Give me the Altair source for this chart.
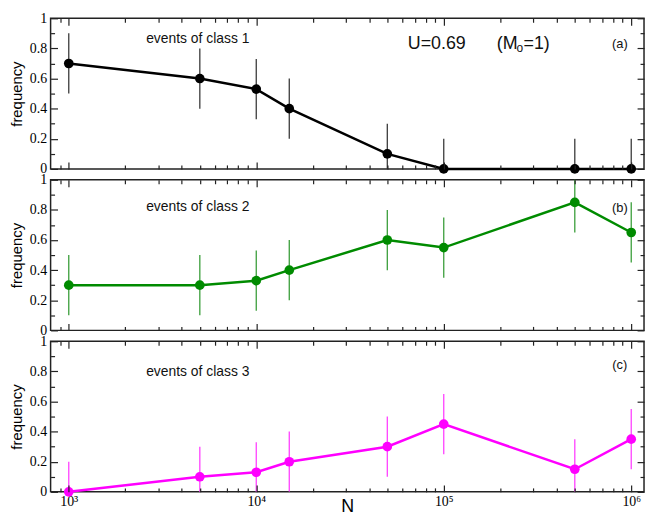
import altair as alt
import pandas as pd

# ---------------- data ----------------
N_values = [1000, 5000, 10000, 15000, 50000, 100000, 500000, 1000000]
freq_class1 = [0.70, 0.60, 0.53, 0.40, 0.10, 0.00, 0.00, 0.00]
freq_class2 = [0.30, 0.30, 0.33, 0.40, 0.60, 0.55, 0.85, 0.65]
freq_class3 = [0.00, 0.10, 0.13, 0.20, 0.30, 0.45, 0.15, 0.35]
err_class1 = [0.20, 0.20, 0.20, 0.20, 0.20, 0.20, 0.20, 0.20]
err_class2 = [0.20, 0.20, 0.20, 0.20, 0.20, 0.20, 0.20, 0.20]
err_class3 = [0.20, 0.20, 0.20, 0.20, 0.20, 0.20, 0.20, 0.20]

class_labels = ["events of class 1", "events of class 2", "events of class 3"]
panel_tags = ["(a)", "(b)", "(c)"]

x_major = [1000, 10000, 100000, 1000000]
x_minor = [900, 2000, 3000, 4000, 5000, 6000, 7000, 8000, 9000,
           20000, 30000, 40000, 50000, 60000, 70000, 80000, 90000,
           200000, 300000, 400000, 500000, 600000, 700000, 800000, 900000]
y_major = [0, 0.2, 0.4, 0.6, 0.8, 1.0]
y_minor = [0.1, 0.3, 0.5, 0.7, 0.9]

# ---------------- layout ----------------
W = 599
H = 152
X_DOMAIN = [800, 1170000]
TICK_COLOR = "#222222"

xs = alt.Scale(type="log", domain=X_DOMAIN, nice=False)
ys = alt.Scale(domain=[0, 1], nice=False, zero=False)

tick_common = dict(labels=False, domain=False, grid=False, title=None,
                   tickColor=TICK_COLOR, tickWidth=1.2, zindex=1)


def tick_axis(orient, offset, values, size):
    return alt.Axis(orient=orient, offset=offset, values=values,
                    tickSize=size, **tick_common)


def panel(freq, err, color, ecolor, label, label_y, tag, tag_y, bottom, extra=None):
    df = pd.DataFrame({"N": N_values, "f": freq, "e": err})
    base = alt.Chart(df).transform_calculate(
        lo="datum.f - datum.e", hi="datum.f + datum.e")

    y_label_axis = alt.Axis(
        orient="left", values=y_major, ticks=False, tickSize=0, domain=False,
        grid=False, labelExpr="datum.value == 0 ? '0' : datum.value == 1 ? '1' : format(datum.value, '.1f')",
        labelFont="Liberation Serif", labelFontSize=14, labelColor="black",
        labelPadding=4, title="frequency", titleFont="Liberation Sans",
        titleFontSize=15, titleFontWeight="normal", titleColor="black",
        titlePadding=5)
    if bottom:
        x_label_axis = alt.Axis(
            orient="bottom", values=x_major, ticks=False, tickSize=0,
            domain=False, grid=False,
            labelExpr="datum.value < 5000 ? '10³' : datum.value < 50000 ? '10⁴' : datum.value < 500000 ? '10⁵' : '10⁶'",
            labelFont="Liberation Serif", labelFontSize=14, labelColor="black",
            labelPadding=3, title="N", titleFont="Liberation Sans",
            titleFontSize=18, titleFontWeight="normal", titleColor="black",
            titleBaseline="alphabetic", titleY=20)
    else:
        x_label_axis = None

    err_layer = base.mark_rule(color=ecolor, strokeWidth=1.3, clip=True).encode(
        x=alt.X("N:Q", scale=xs, axis=x_label_axis),
        y=alt.Y("lo:Q", scale=ys, axis=y_label_axis),
        y2="hi:Q")
    line_layer = base.mark_line(color=color, strokeWidth=2.5).encode(
        x=alt.X("N:Q", scale=xs, axis=tick_axis("bottom", -H, x_major, 7)),
        y=alt.Y("f:Q", scale=ys, axis=tick_axis("right", -W, y_major, 7)))
    pt_layer = base.mark_circle(color=color, size=95, opacity=1).encode(
        x=alt.X("N:Q", scale=xs, axis=tick_axis("bottom", -H, x_minor, 4)),
        y=alt.Y("f:Q", scale=ys, axis=tick_axis("right", -W, y_minor, 4)))
    d1 = base.mark_circle(opacity=0).encode(
        x=alt.X("N:Q", scale=xs, axis=tick_axis("top", -H, x_major, 7)),
        y=alt.Y("f:Q", scale=ys, axis=tick_axis("left", -W, y_major, 7)))
    d2 = base.mark_circle(opacity=0).encode(
        x=alt.X("N:Q", scale=xs, axis=tick_axis("top", -H, x_minor, 4)),
        y=alt.Y("f:Q", scale=ys, axis=tick_axis("left", -W, y_minor, 4)))

    lab_df = pd.DataFrame({"x": [4875], "y": [label_y], "t": [label]})
    lab = alt.Chart(lab_df).mark_text(
        font="Liberation Sans", fontSize=14, color="#111", align="center",
        baseline="middle").encode(
        x=alt.X("x:Q", scale=xs, axis=None),
        y=alt.Y("y:Q", scale=ys, axis=None), text="t:N")
    tag_df = pd.DataFrame({"x": [869000], "y": [tag_y], "t": [tag]})
    tagm = alt.Chart(tag_df).mark_text(
        font="Liberation Sans", fontSize=13, color="#111", align="center",
        baseline="middle").encode(
        x=alt.X("x:Q", scale=xs, axis=None),
        y=alt.Y("y:Q", scale=ys, axis=None), text="t:N")

    layers = [err_layer, line_layer, pt_layer, d1, d2, lab, tagm]
    if extra is not None:
        layers += extra
    return alt.layer(*layers).resolve_axis(
        x="independent", y="independent").properties(width=W, height=H)


# U / M_o annotation for panel (a)
u_df = pd.DataFrame({"x": [64300], "y": [0.832], "t": ["U=0.69"]})
m_df = pd.DataFrame({"x": [191700], "y": [0.832], "t": ["(M"]})
o_df = pd.DataFrame({"x": [191700], "y": [0.80], "t": ["o"]})
e_df = pd.DataFrame({"x": [191700], "y": [0.832], "t": ["=1)"]})


def ann(df, size, dx=0):
    return alt.Chart(df).mark_text(
        font="Liberation Sans", fontSize=size, color="#111", align="left",
        baseline="middle", dx=dx).encode(
        x=alt.X("x:Q", scale=xs, axis=None),
        y=alt.Y("y:Q", scale=ys, axis=None), text="t:N")


extra_a = [ann(u_df, 18), ann(m_df, 18), ann(o_df, 12, 20), ann(e_df, 18, 27)]

pa = panel(freq_class1, err_class1, "#000000", "#3a3a3a", class_labels[0], 0.865,
           panel_tags[0], 0.826, False, extra_a)
pb = panel(freq_class2, err_class2, "#008b00", "#3a9e3a", class_labels[1], 0.82,
           panel_tags[1], 0.81, False)
pc = panel(freq_class3, err_class3, "#ff00ff", "#ff40ff", class_labels[2], 0.795,
           panel_tags[2], 0.845, True)

chart = alt.vconcat(pa, pb, pc, spacing=11, bounds="flush").properties(
    padding=0).configure_view(stroke="#222222", strokeWidth=1.5)

chart.save("out.html", embed_options={"renderer": "svg", "actions": False})
